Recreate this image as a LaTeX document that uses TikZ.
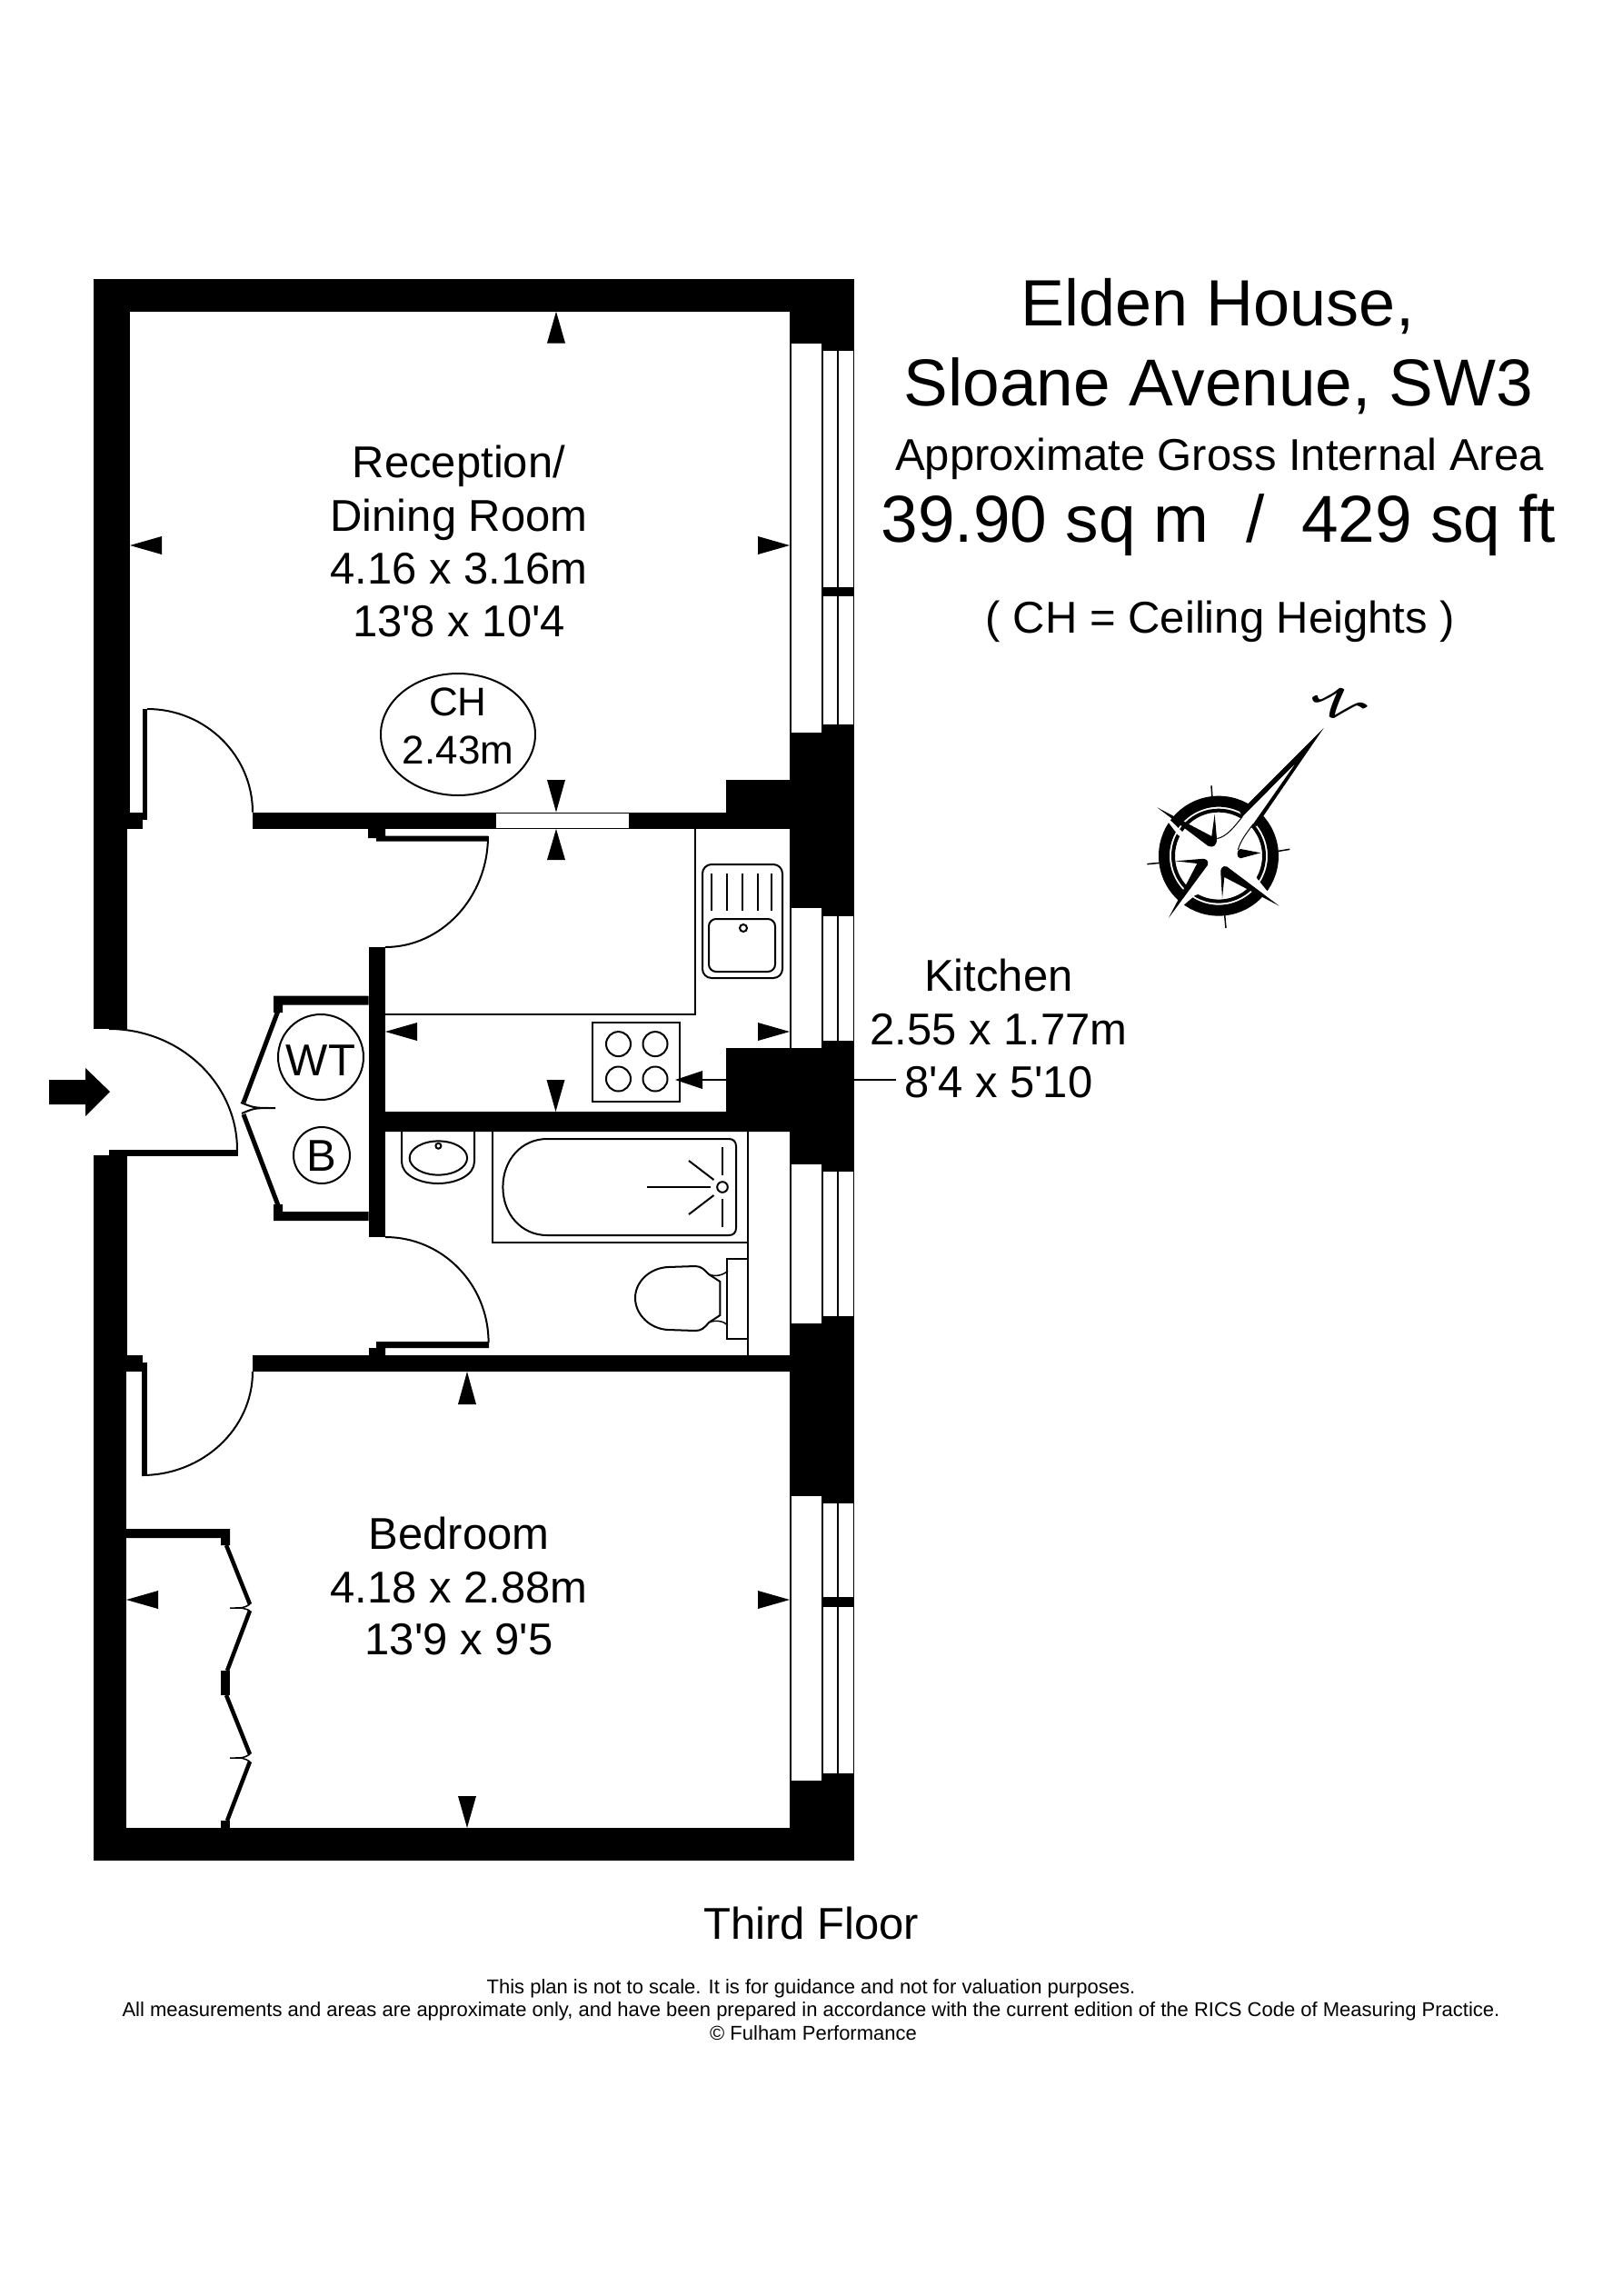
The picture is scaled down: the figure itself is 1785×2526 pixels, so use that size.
\documentclass[tikz,border=0pt]{standalone}
\usepackage{fontspec}
\setmainfont{Liberation Sans}[Ligatures=TeXOff]
\usepackage{amsmath, amssymb}
\usetikzlibrary{calc}

\begin{document}
\begin{tikzpicture}[x=1pt, y=-1pt,
      label/.style={anchor=base, font=\fontsize{49}{58}\selectfont, inner sep=0pt},
      small label/.style={anchor=base, font=\fontsize{44}{52}\selectfont, inner sep=0pt},
      title/.style={anchor=base, font=\fontsize{73}{80}\selectfont, inner sep=0pt},
      subtitle/.style={anchor=base, font=\fontsize{49}{58}\selectfont, inner sep=0pt},
      notes/.style={anchor=base, font=\fontsize{22}{28}\selectfont, inner sep=0pt},
      fixture/.style={draw, line width=2pt},
      wall/.style={fill=black},
      pane/.style={fill=white},
      room/.style={fill=white},
      swing/.style={draw, line width=2pt}]

      \useasboundingbox (0,0) rectangle (1785,2526);

      % Walls
      \fill[wall] (103,306.5) rectangle (940,2047);
      \fill[room] (143,343) rectangle (869,893.6);
      \fill[room] (140,912) rectangle (869,1491);
      \fill[room] (139,1509) rectangle (869,2011);
      \fill[room] (100,1132) rectangle (141,1271);
      \fill[room] (162,893) rectangle (278,902);
      \fill[room] (157,902) rectangle (278,912);
      \fill[room] (157,1490) rectangle (278,1499.4);
      \fill[room] (162,1499) rectangle (278,1510);
      \fill[wall] (799,858) rectangle (870,894);
      \fill[wall] (799,1153) -- (870,1153) -- (870,1245) -- (406,1245) -- (406,1223) -- (799,1223) -- cycle;
      \fill[wall] (405.7,1042) rectangle (424,1361);

      % Windows
      \fill[pane] (546,895) rectangle (692,910.5);
      \foreach \ya/\yb in {377.5/805.6, 999/1153, 1281/1456, 1646/1959}
        \fill[pane] (870.7,\ya) rectangle (904,\yb);
      \foreach \ya/\yb in {386/645.8, 656/797, 1008/1145, 1289/1448, 1654/1757, 1768/1951} {
        \fill[pane] (905.5,\ya) rectangle (921,\yb);
        \fill[pane] (923,\ya) rectangle (938.5,\yb);
      }

      % Doors
      \fill[wall] (157,780) rectangle (162,902);
      \draw[swing] (162,780) .. controls (226,780) and (278,831) .. (278,893.6);
      \fill[wall] (405,912) -- (424,912) -- (424,919.5) -- (537,919.5) -- (537,925.7) -- (414,925.7) -- (414,922) -- (405,922) -- cycle;
      \draw[swing] (537,920) .. controls (537,987) and (486,1042) .. (424,1042);
      \fill[wall] (120,1265) -- (262,1265) -- (262,1272) -- (120,1272) -- cycle;
      \draw[swing] (120,1132) .. controls (198,1132) and (261,1192) .. (261,1265);
      \fill[wall] (414,1476) -- (538,1476) -- (538,1483) -- (424,1483) -- (424,1491) -- (406,1491) -- (406,1483) -- (414,1483) -- cycle;
      \draw[swing] (424,1361) .. controls (487,1361) and (537.6,1413) .. (537.6,1477);
      \fill[wall] (156,1499) rectangle (162,1623);
      \draw[swing] (156,1623) .. controls (223,1623) and (278,1572) .. (278,1509);

      % Cupboard
      \fill[wall] (405.7,1095.7) -- (301,1095.7) -- (301,1114) -- (311,1114) -- (311,1105.7) -- (405.7,1105.7) -- cycle;
      \fill[wall] (405.7,1343) -- (301,1343) -- (301,1325) -- (311,1325) -- (311,1333) -- (405.7,1333) -- cycle;
      \draw[line width=5pt] (306,1112) -- (268,1213);
      \draw[line width=5pt] (268,1226) -- (306,1326);
      \draw[fixture] (265,1213) .. controls (280,1219) .. (303,1219) .. controls (280,1219) .. (266,1225);
      \node[label] (wtlabel) at (353,1183) {WT};
      \node[label] (blabel) at (354,1288) {B};
      \draw[fixture] (353,1163) circle [radius=47];
      \draw[fixture] (354,1271) circle [radius=31];

      % Wardrobe
      \fill[wall] (139,1682) -- (253,1682) -- (253,1700) -- (243,1700) -- (243,1692) -- (139,1692) -- cycle;
      \fill[wall] (243,1837.5) rectangle (253,1865);
      \fill[wall] (243,2003) rectangle (253,2011);
      \foreach \ya/\xb/\yb/\yc/\yd in {1700/275/1765/1772/1838, 1865/275/1930/1938/2003} {
        \draw[line width=4.5pt] (249,\ya) -- (\xb,\yb);
        \draw[line width=4.5pt] (\xb,\yc) -- (250,\yd);
        \draw[line width=1.5pt] (\xb,\yb) .. controls (268,1.0*\yb+4) .. (253,\yb+4) .. controls (268,\yb+4) .. (\xb,\yc);
      }

      % Kitchen
      \draw[fixture] (424,1115.7) -- (765,1115.7) -- (765,912);
      \draw[fixture, rounded corners=10pt] (773,951) rectangle (861,1076);
      \draw[fixture, rounded corners=8pt] (780,1011) rectangle (853,1069);
      \foreach \x in {783,800,817,834,849}
        \draw[fixture] (\x,961) -- (\x,1002);
      \draw[fixture] (818,1021) circle [radius=4];
      \draw[fixture] (652,1125) rectangle (748,1212);
      \foreach \x in {680.5,721} \foreach \y in {1148.6,1187}
        \draw[fixture] (\x,\y) circle [radius=13.5];

      % Bathroom
      \draw[fixture] (823,1245) -- (823,1491);
      \draw[fixture] (442,1245) -- (442,1278) .. controls (442,1293) and (462,1302) .. (482,1302) .. controls (502,1302) and (522,1293) .. (522,1278) -- (522,1245);
      \draw[fixture] (482.4,1274) ellipse [x radius=31.7, y radius=18.6];
      \draw[fixture] (482.4,1260.7) circle [radius=3];
      \draw[fixture] (542,1245) -- (542,1367) -- (823,1367);
      \draw[fixture] (602,1253) -- (802,1253) .. controls (807,1253) and (810,1256) .. (810,1261) -- (810,1351) .. controls (810,1356) and (807,1359) .. (802,1359) -- (602,1359) .. controls (574,1359) and (553.4,1336) .. (553.4,1306) .. controls (553.4,1276) and (574,1253) .. (602,1253) -- cycle;
      \draw[fixture] (795,1306) circle [radius=5.8];
      \draw[fixture] (795,1262) -- (795,1293);
      \draw[fixture] (795,1319) -- (795,1350);
      \draw[fixture] (712,1306) -- (782,1306);
      \draw[fixture] (758,1277) -- (785.5,1298);
      \draw[fixture] (758,1336) -- (785.5,1315);
      \draw[fixture] (823,1385) -- (799.7,1385) -- (799.7,1473) -- (823,1473);
      \draw[fixture] (792.4,1410) -- (792.4,1447) -- (780,1455) .. controls (775,1461) and (772,1464) .. (765,1464) -- (735,1463) .. controls (715,1462) and (699,1446) .. (699,1428) .. controls (699,1410) and (715,1395) .. (735,1394) -- (765,1393) .. controls (772,1393) and (775,1397) .. (780,1402) -- cycle;
      \draw[fixture, line width=1.5pt] (780,1402) .. controls (787,1405) and (796,1403) .. (801,1398);
      \draw[fixture, line width=1.5pt] (780,1455) .. controls (787,1452) and (796,1453) .. (801,1458);

      % Measuring marks
      \foreach \x/\ya/\yb in {612/342.7/377.5, 612/893.6/858, 612/912/946, 611.5/1223/1188, 514/1509/1545, 514/2011/1976}
        \fill (\x,\ya) -- (\x+10,\yb) -- (\x-10,\yb) -- cycle;
      \foreach \y/\xa/\xb in {600/143/178, 600/869/834, 1135/424/459, 1135/869/834, 1760/139/174, 1760/869/834, 1188/743/773}
        \fill (\xa,\y) -- (\xb,\y+10) -- (\xb,\y-10) -- cycle;
      \draw[fixture] (773,1188) -- (799,1188);
      \draw[fixture] (940,1188) -- (986,1188);

      % Entrance arrow
      \fill (54,1188) -- (94,1188) -- (94,1175) -- (121,1201) -- (94,1228) -- (94,1215) -- (54,1215) -- cycle;

      % Compass
      \begin{scope}[shift={(1230,730)}, x=0.3333pt, y=-0.3333pt]
        \draw[line width=4pt] (333,635) circle [radius=150];
        \draw[line width=12pt] (333,635) circle [radius=180];
        \foreach \xa/\ya/\xb/\yb in {309/403/312/445, 97/662/140/658, 568/613/525/620, 357/873/353/830}
          \draw[line width=1.5pt] (\xa,\ya) -- (\xb,\yb);
        % white cuts
        \fill[white] (130,475) -- (198,565) -- (320,650) -- (330,578) -- (412,505) -- (680,213) -- (447,530) -- (397,615) -- (460,710) -- (533,800) -- (400,720) -- (255,765) -- (168,840) -- (230,740) -- (300,640) -- cycle;
        \draw[line width=1pt] (412,505) .. controls (380,545) and (360,570) .. (328,578);
        \draw[line width=1pt] (447,530) .. controls (425,560) and (405,585) .. (397,615);
        % black wedges
        \fill (680,213) -- (403,490) -- (412,505) -- (588,328) -- (447,530) -- (457,538) -- cycle;
        \fill (130,475) -- (310,570) -- (320,497) -- (327,578) .. controls (328,600) and (315,610) .. (298,602) -- cycle;
        \fill (533,800) -- (360,670) .. controls (345,665) and (337,680) .. (340,692) -- (345,775) -- (352,705) -- cycle;
        \fill (168,840) -- (297,665) .. controls (302,650) and (290,642) .. (275,645) -- (190,652) -- (262,660) -- cycle;
        \fill (472,625) -- (405,612) .. controls (392,615) and (390,640) .. (405,643) -- cycle;
      \end{scope}
      \node[rotate=-45, scale=4.4, inner sep=0pt] (north) at (1473,775) {$\boldsymbol{\mathcal{N}}$};

      % Room labels
      \node[label] (reca) at (505,525) {Reception/};
      \node[label] (recb) at (505,584) {Dining Room};
      \node[label] (recc) at (505,642.7) {4.16 x 3.16m};
      \node[label] (recd) at (505,700.7) {13'8 x 10'4};
      \node[small label] (cha) at (504,787) {CH};
      \node[small label] (chb) at (504,840) {2.43m};
      \draw[fixture] (504,808) ellipse [x radius=85, y radius=67];
      \node[label] (beda) at (505,1704) {Bedroom};
      \node[label] (bedb) at (505,1763) {4.18 x 2.88m};
      \node[label] (bedc) at (505,1820.5) {13'9 x 9'5};
      \node[label] (kita) at (1099,1090) {Kitchen};
      \node[label] (kitb) at (1099,1149) {2.55 x 1.77m};
      \node[label] (kitc) at (1099,1207) {8'4 x 5'10};

      % Heading
      \node[title, font=\fontsize{72}{80}\selectfont] (house) at (1340,358) {Elden House,};
      \node[title] (street) at (1341,446) {Sloane Avenue, SW3};
      \node[subtitle] (approx) at (1342,517) {Approximate Gross Internal Area};
      \node[title] (area) at (1341,596) {39.90 sq m\ \ /\ \ 429 sq ft};
      \node[subtitle] (heights) at (1343,696) {( CH = Ceiling Heights )};

      % Footer
      \node[label] (floor) at (892.5,2133) {Third Floor};
      \node[notes] (notea) at (892.5,2193) {This plan is not to scale. It is for guidance and not for valuation purposes.};
      \node[notes] (noteb) at (892.5,2218) {All measurements and areas are approximate only, and have been prepared in accordance with the current edition of the RICS Code of Measuring Practice.};
      \node[notes] (notec) at (895,2244) {\textcopyright{} Fulham Performance};
    \end{tikzpicture}
\end{document}
